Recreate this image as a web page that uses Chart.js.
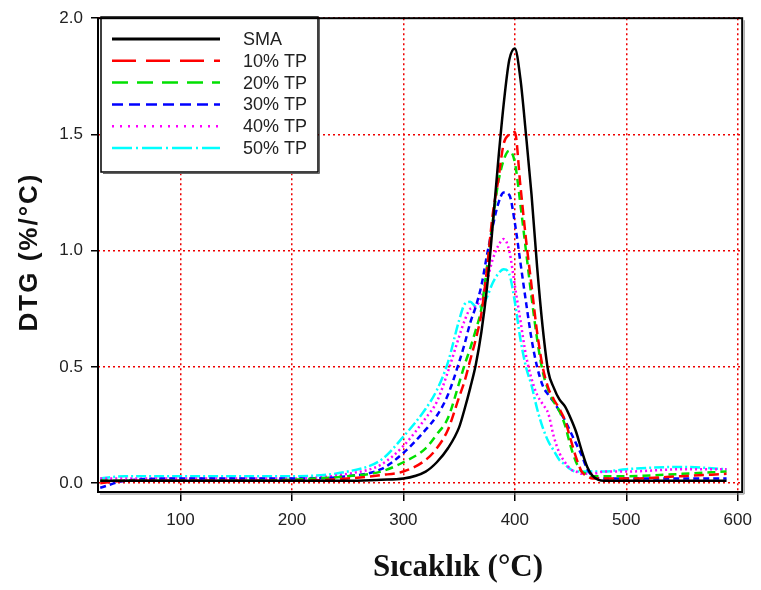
<!DOCTYPE html>
<html>
<head>
<meta charset="utf-8">
<script src="https://cdn.jsdelivr.net/npm/chart.js@4.4.1/dist/chart.umd.min.js"></script>
<style>
  body { margin: 0; background: #fff; }
  canvas { display: block; }
</style>
</head>
<body>
<canvas id="myChart" width="761" height="590"></canvas>
<script>
// temperature points (°C)
const temps = [28, 50, 100, 150, 200, 250, 280, 300, 320, 330, 340, 350, 355, 360, 365, 370, 375, 380, 385, 390,
               395, 400, 405, 410, 415, 420, 425, 430, 435, 440, 445, 450, 455, 460, 465, 470, 480, 500, 550, 590];

const sma   = [0.01, 0.01, 0.01, 0.01, 0.01, 0.01, 0.015, 0.02, 0.05, 0.09, 0.15, 0.24, 0.32, 0.41, 0.51, 0.65, 0.84, 1.10, 1.38, 1.63,
               1.82, 1.87, 1.74, 1.50, 1.24, 0.93, 0.67, 0.48, 0.41, 0.36, 0.33, 0.28, 0.22, 0.14, 0.07, 0.03, 0.01, 0.01, 0.01, 0.01];
const tp10  = [0.00, 0.01, 0.01, 0.01, 0.01, 0.02, 0.035, 0.05, 0.10, 0.15, 0.23, 0.37, 0.44, 0.53, 0.62, 0.73, 0.92, 1.15, 1.30, 1.46,
               1.50, 1.51, 1.28, 1.05, 0.85, 0.65, 0.50, 0.41, 0.36, 0.32, 0.27, 0.19, 0.11, 0.05, 0.03, 0.02, 0.02, 0.02, 0.03, 0.04];
const tp20  = [0.01, 0.01, 0.01, 0.01, 0.015, 0.03, 0.05, 0.09, 0.15, 0.21, 0.28, 0.43, 0.51, 0.58, 0.66, 0.75, 0.93, 1.12, 1.29, 1.39,
               1.43, 1.38, 1.20, 1.00, 0.80, 0.62, 0.48, 0.40, 0.35, 0.31, 0.25, 0.16, 0.09, 0.05, 0.04, 0.03, 0.03, 0.03, 0.04, 0.05];
const tp30  = [-0.02, 0.01, 0.02, 0.02, 0.02, 0.03, 0.06, 0.13, 0.23, 0.29, 0.38, 0.52, 0.60, 0.69, 0.76, 0.85, 0.98, 1.10, 1.20, 1.25,
               1.24, 1.12, 0.95, 0.78, 0.62, 0.50, 0.42, 0.38, 0.35, 0.31, 0.27, 0.22, 0.17, 0.12, 0.06, 0.03, 0.02, 0.02, 0.02, 0.02];
const tp40  = [0.02, 0.02, 0.02, 0.02, 0.02, 0.04, 0.08, 0.16, 0.28, 0.35, 0.48, 0.63, 0.70, 0.75, 0.76, 0.80, 0.87, 0.96, 1.02, 1.05,
               1.00, 0.85, 0.70, 0.55, 0.45, 0.38, 0.34, 0.30, 0.20, 0.13, 0.09, 0.06, 0.05, 0.04, 0.04, 0.04, 0.05, 0.05, 0.06, 0.06];
const tp50  = [0.02, 0.03, 0.03, 0.03, 0.03, 0.05, 0.10, 0.20, 0.32, 0.40, 0.52, 0.70, 0.77, 0.78, 0.76, 0.76, 0.80, 0.86, 0.90, 0.92,
               0.90, 0.78, 0.62, 0.50, 0.42, 0.32, 0.24, 0.18, 0.14, 0.10, 0.08, 0.06, 0.05, 0.05, 0.05, 0.05, 0.05, 0.06, 0.07, 0.06];

const seriesNames = ['SMA', '10% TP', '20% TP', '30% TP', '40% TP', '50% TP'];
const seriesValues = [sma, tp10, tp20, tp30, tp40, tp50];
const seriesColors = ['#000000', '#ff0000', '#00e000', '#0000ff', '#ff00ff', '#00ffff'];
const plotDashes = [[], [10, 5], [8, 5], [6, 4], [2, 3], [10, 3, 2, 3]];
const legendDashes = [[], [24, 10], [16, 9], [11, 6], [2, 6], [20, 4, 2, 4]];

const xTitle = 'Sıcaklık (°C)';
const yTitle = 'DTG (%/°C)';

function toPoints(vals) {
    return temps.map((t, i) => ({ x: t, y: vals[i] }));
}

let datasets = seriesValues.map((vals, i) => ({
    label: seriesNames[i],
    data: toPoints(vals),
    borderColor: seriesColors[i],
    borderDash: plotDashes[i],
    borderWidth: 2.5,
    pointRadius: 0,
    cubicInterpolationMode: 'monotone',
    fill: false
}));

// legend box + frame + axis titles
const decorations = {
    id: 'decorations',
    afterDatasetsDraw(chart) {
        let c = chart.ctx;
        let a = chart.chartArea;
        c.save();

        // legend box
        let bx = 101, by = 17, bw = 217, bh = 155;
        c.fillStyle = '#fff';
        c.fillRect(bx, by, bw, bh);
        c.strokeStyle = '#000';
        c.lineWidth = 1.5;
        c.setLineDash([]);
        c.strokeRect(bx, by, bw, bh);
        c.lineWidth = 1;
        c.strokeStyle = '#666';
        c.beginPath();
        c.moveTo(bx + 2, by + bh + 1.5);
        c.lineTo(bx + bw + 1.5, by + bh + 1.5);
        c.lineTo(bx + bw + 1.5, by + 2);
        c.stroke();

        c.font = '18px Arial, "Liberation Sans", sans-serif';
        c.textBaseline = 'middle';
        c.textAlign = 'left';
        for (let i = 0; i < seriesNames.length; i++) {
            let y = 39 + i * 21.8;
            c.strokeStyle = seriesColors[i];
            c.lineWidth = i == 0 ? 3 : 2.5;
            c.setLineDash(legendDashes[i]);
            c.beginPath();
            c.moveTo(112, y);
            c.lineTo(220, y);
            c.stroke();
            c.fillStyle = '#222';
            c.fillText(seriesNames[i], 243, y + 1);
        }

        // plot frame
        c.setLineDash([]);
        c.strokeStyle = '#000';
        c.lineWidth = 2;
        c.strokeRect(a.left, a.top, a.right - a.left, a.bottom - a.top);
        c.strokeStyle = '#888';
        c.lineWidth = 1;
        c.beginPath();
        c.moveTo(a.left + 2, a.bottom + 2);
        c.lineTo(a.right + 2, a.bottom + 2);
        c.lineTo(a.right + 2, a.top + 2);
        c.stroke();

        // axis titles
        c.fillStyle = '#111';
        c.textAlign = 'center';
        c.textBaseline = 'alphabetic';
        c.font = 'bold 31px "Liberation Serif", "Times New Roman", serif';
        c.fillText(xTitle, 458, 576);

        c.translate(37, 252);
        c.rotate(-Math.PI / 2);
        c.font = 'bold 26px Arial, "Liberation Sans", sans-serif';
        c.letterSpacing = '2px';
        c.fillText(yTitle, 0, 0);
        c.restore();
    }
};

let ctx = document.getElementById('myChart').getContext('2d');
let myChart = new Chart(ctx, {
    type: 'line',
    data: { datasets: datasets },
    plugins: [decorations],
    options: {
        responsive: false,
        animation: false,
        devicePixelRatio: 1,
        layout: { padding: { top: 13, right: 14, left: 0, bottom: 0 } },
        plugins: {
            legend: { display: false },
            tooltip: { enabled: false }
        },
        scales: {
            x: {
                type: 'linear',
                min: 26,
                max: 604,
                afterFit: s => { s.height = 98; },
                border: { display: false, dash: [2, 3] },
                grid: {
                    color: '#ee0000',
                    lineWidth: 1.5,
                    tickLength: 9,
                    tickColor: '#000',
                    tickWidth: 1.5,
                    tickBorderDash: []
                },
                ticks: {
                    stepSize: 100,
                    includeBounds: false,
                    autoSkip: false,
                    maxRotation: 0,
                    padding: 9,
                    color: '#222',
                    font: { family: 'Arial, "Liberation Sans", sans-serif', size: 17 }
                }
            },
            y: {
                min: -0.038,
                max: 2.0,
                afterFit: s => { s.width = 98; },
                border: { display: false, dash: [2, 3] },
                grid: {
                    color: '#ee0000',
                    lineWidth: 1.5,
                    tickLength: 7,
                    tickColor: '#000',
                    tickWidth: 1.5,
                    tickBorderDash: []
                },
                ticks: {
                    stepSize: 0.5,
                    includeBounds: false,
                    padding: 8,
                    color: '#222',
                    font: { family: 'Arial, "Liberation Sans", sans-serif', size: 17 },
                    callback: v => v.toFixed(1)
                }
            }
        }
    }
});
</script>
</body>
</html>
